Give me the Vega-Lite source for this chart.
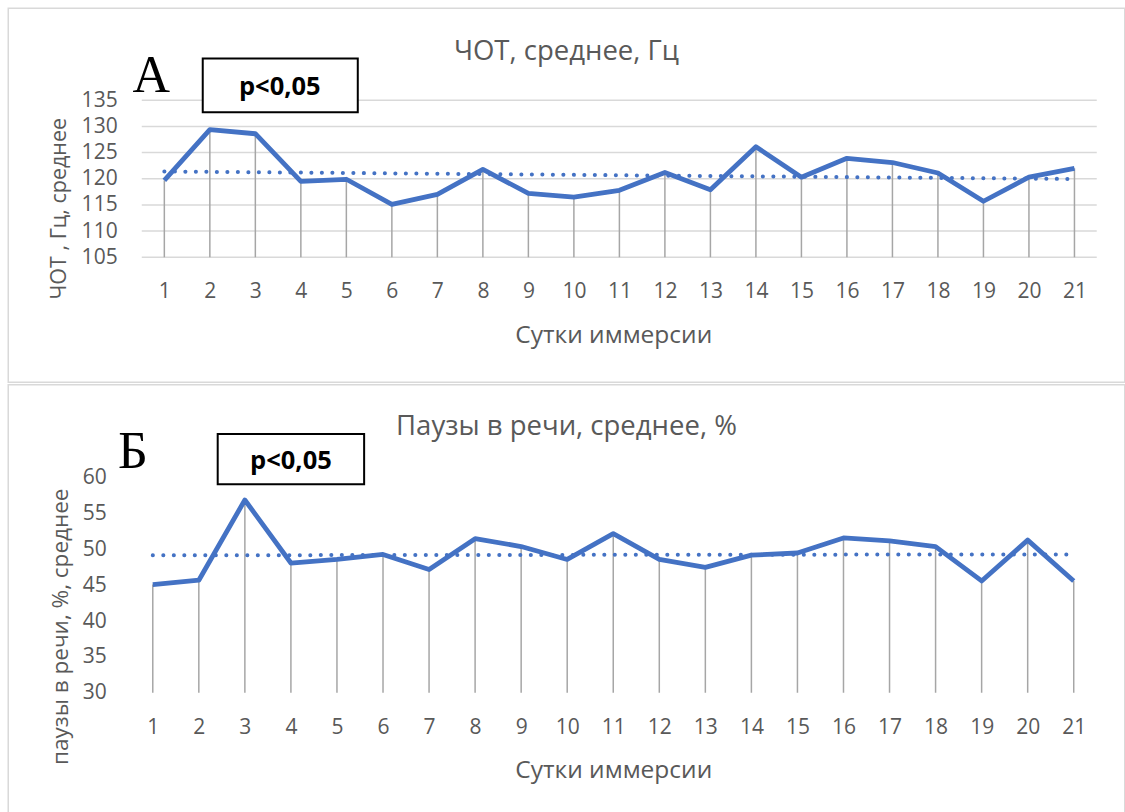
{
  "$schema": "https://vega.github.io/schema/vega-lite/v6.json",
  "background": "white",
  "padding": {"left": 6.75, "top": 7.25, "right": 0, "bottom": 0},
  "datasets": {
    "hr": [
      {"day": 1, "value": 119.7}, {"day": 2, "value": 129.4}, {"day": 3, "value": 128.6},
      {"day": 4, "value": 119.5}, {"day": 5, "value": 119.9}, {"day": 6, "value": 115.1},
      {"day": 7, "value": 117.0}, {"day": 8, "value": 121.8}, {"day": 9, "value": 117.2},
      {"day": 10, "value": 116.5}, {"day": 11, "value": 117.8}, {"day": 12, "value": 121.2},
      {"day": 13, "value": 117.9}, {"day": 14, "value": 126.1}, {"day": 15, "value": 120.3},
      {"day": 16, "value": 123.9}, {"day": 17, "value": 123.1}, {"day": 18, "value": 121.1},
      {"day": 19, "value": 115.7}, {"day": 20, "value": 120.3}, {"day": 21, "value": 122.0}
    ],
    "pause": [
      {"day": 1, "value": 45.1}, {"day": 2, "value": 45.7}, {"day": 3, "value": 56.9},
      {"day": 4, "value": 48.1}, {"day": 5, "value": 48.6}, {"day": 6, "value": 49.3},
      {"day": 7, "value": 47.2}, {"day": 8, "value": 51.5}, {"day": 9, "value": 50.4},
      {"day": 10, "value": 48.6}, {"day": 11, "value": 52.2}, {"day": 12, "value": 48.6},
      {"day": 13, "value": 47.5}, {"day": 14, "value": 49.2}, {"day": 15, "value": 49.5},
      {"day": 16, "value": 51.6}, {"day": 17, "value": 51.2}, {"day": 18, "value": 50.4},
      {"day": 19, "value": 45.6}, {"day": 20, "value": 51.3}, {"day": 21, "value": 45.6}
    ],
    "hrTicks": [
      {"tick": 105}, {"tick": 110}, {"tick": 115}, {"tick": 120}, {"tick": 125}, {"tick": 130}, {"tick": 135}
    ],
    "one": [{}]
  },
  "config": {
    "view": {"stroke": null},
    "font": "Open Sans",
    "axis": {
      "labelFont": "Open Sans", "labelFontSize": 21, "labelColor": "#595959", "labelOverlap": false,
      "titleFont": "Open Sans", "titleColor": "#595959", "titleFontWeight": "normal",
      "domain": false, "ticks": false, "tickSize": 0, "gridColor": "#d9d9d9", "gridWidth": 1.5
    }
  },
  "spacing": 0.5,
  "vconcat": [
    {
      "width": 967, "height": 157,
      "title": {"text": "ЧОТ, среднее, Гц", "anchor": "middle", "frame": "bounds", "offset": -57.75, "font": "Open Sans", "fontSize": 27.5, "fontWeight": "normal", "color": "#595959"},
      "layer": [
        {
          "data": {"name": "one"},
          "mark": {"type": "rect", "filled": false, "stroke": "#d9d9d9", "strokeWidth": 1.5},
          "encoding": {
            "x": {"datum": -2.43, "type": "quantitative"}, "x2": {"datum": 22.105},
            "y": {"datum": 152.58, "type": "quantitative"}, "y2": {"datum": 81.12}
          }
        },
        {
          "data": {"name": "hrTicks"},
          "mark": {"type": "rule", "color": "#d9d9d9", "strokeWidth": 1.5},
          "encoding": {
            "y": {"field": "tick", "type": "quantitative"},
            "x": {"datum": 0.504, "type": "quantitative"},
            "x2": {"datum": 21.49}
          }
        },
        {
          "data": {"name": "hr"},
          "mark": {"type": "rule", "color": "#a6a6a6", "strokeWidth": 1.5},
          "encoding": {
            "x": {"field": "day", "type": "quantitative",
                  "scale": {"domain": [0.24, 21.49], "nice": false, "zero": false},
                  "axis": {"values": [1,2,3,4,5,6,7,8,9,10,11,12,13,14,15,16,17,18,19,20,21], "tickCount": 30, "format": "d", "grid": false, "labelOverlap": false, "labelPadding": 23.5, "title": "Сутки иммерсии", "titleFontSize": 24.5, "titlePadding": 22, "labelFlush": false}},
            "y": {"field": "value", "type": "quantitative",
                  "scale": {"domain": [105, 135], "nice": false, "zero": false},
                  "axis": {"values": [105,110,115,120,125,130,135], "tickCount": 10, "grid": false, "labelOverlap": false, "labelPadding": 12.6, "title": "ЧОТ , Гц, среднее", "titleFontSize": 21.5, "titlePadding": 10.5, "titleY": 108}},
            "y2": {"datum": 105}
          }
        },
        {
          "data": {"name": "hr"},
          "mark": {"type": "line", "color": "#4472C4", "strokeWidth": 4.8, "strokeJoin": "round"},
          "encoding": {
            "x": {"field": "day", "type": "quantitative"},
            "y": {"field": "value", "type": "quantitative"}
          }
        },
        {
          "data": {"name": "hr"},
          "transform": [{"regression": "value", "on": "day"}],
          "mark": {"type": "line", "color": "#4472C4", "strokeWidth": 4, "strokeDash": [0.1, 10.4], "strokeCap": "round"},
          "encoding": {
            "x": {"field": "day", "type": "quantitative"},
            "y": {"field": "value", "type": "quantitative"}
          }
        },
        {
          "data": {"name": "one"},
          "mark": {"type": "rect", "fill": "white", "stroke": "black", "strokeWidth": 2},
          "encoding": {
            "x": {"datum": 1.844, "type": "quantitative"}, "x2": {"datum": 5.251},
            "y": {"datum": 143.0, "type": "quantitative"}, "y2": {"datum": 132.7}
          }
        },
        {
          "data": {"name": "one"},
          "mark": {"type": "text", "text": "p<0,05", "font": "Open Sans", "fontWeight": "bold", "fontSize": 25.5, "color": "black", "baseline": "middle", "align": "center"},
          "encoding": {"x": {"datum": 3.537, "type": "quantitative"}, "y": {"datum": 137.6, "type": "quantitative"}}
        },
        {
          "data": {"name": "one"},
          "mark": {"type": "text", "text": "А", "font": "Liberation Serif", "fontSize": 52, "color": "black", "baseline": "alphabetic", "align": "center"},
          "encoding": {"x": {"datum": 0.713, "type": "quantitative"}, "y": {"datum": 136.5, "type": "quantitative"}}
        }
      ]
    },
    {
      "width": 967, "height": 215,
      "title": {"text": "Паузы в речи, среднее, %", "anchor": "middle", "frame": "bounds", "offset": -56.75, "font": "Open Sans", "fontSize": 27.5, "fontWeight": "normal", "color": "#595959"},
      "layer": [
        {
          "data": {"name": "one"},
          "mark": {"type": "rect", "filled": false, "stroke": "#d9d9d9", "strokeWidth": 1.5},
          "encoding": {
            "x": {"datum": -2.139, "type": "quantitative"}, "x2": {"datum": 22.108},
            "y": {"datum": 72.98, "type": "quantitative"}, "y2": {"datum": 12.84}
          }
        },
        {
          "data": {"name": "pause"},
          "mark": {"type": "rule", "color": "#a6a6a6", "strokeWidth": 1.5},
          "encoding": {
            "x": {"field": "day", "type": "quantitative",
                  "scale": {"domain": [0.5, 21.5], "nice": false, "zero": false},
                  "axis": {"values": [1,2,3,4,5,6,7,8,9,10,11,12,13,14,15,16,17,18,19,20,21], "tickCount": 30, "format": "d", "grid": false, "labelOverlap": false, "labelPadding": 23.5, "title": "Сутки иммерсии", "titleFontSize": 24.5, "titlePadding": 21, "labelFlush": false}},
            "y": {"field": "value", "type": "quantitative",
                  "scale": {"domain": [30, 60], "nice": false, "zero": false},
                  "axis": {"values": [30,35,40,45,50,55,60], "tickCount": 10, "labelOverlap": false, "labelPadding": 23.6, "title": "паузы в речи, %, среднее", "titleFontSize": 22.5, "titlePadding": 10, "titleY": 148.5}},
            "y2": {"datum": 30}
          }
        },
        {
          "data": {"name": "pause"},
          "mark": {"type": "line", "color": "#4472C4", "strokeWidth": 4.8, "strokeJoin": "round"},
          "encoding": {
            "x": {"field": "day", "type": "quantitative"},
            "y": {"field": "value", "type": "quantitative"}
          }
        },
        {
          "data": {"name": "pause"},
          "transform": [{"regression": "value", "on": "day"}],
          "mark": {"type": "line", "color": "#4472C4", "strokeWidth": 4, "strokeDash": [0.1, 10.4], "strokeCap": "round"},
          "encoding": {
            "x": {"field": "day", "type": "quantitative"},
            "y": {"field": "value", "type": "quantitative"}
          }
        },
        {
          "data": {"name": "one"},
          "mark": {"type": "rect", "fill": "white", "stroke": "black", "strokeWidth": 2},
          "encoding": {
            "x": {"datum": 2.41, "type": "quantitative"}, "x2": {"datum": 5.59},
            "y": {"datum": 66.1, "type": "quantitative"}, "y2": {"datum": 59.1}
          }
        },
        {
          "data": {"name": "one"},
          "mark": {"type": "text", "text": "p<0,05", "font": "Open Sans", "fontWeight": "bold", "fontSize": 25.5, "color": "black", "baseline": "middle", "align": "center"},
          "encoding": {"x": {"datum": 4.0, "type": "quantitative"}, "y": {"datum": 62.3, "type": "quantitative"}}
        },
        {
          "data": {"name": "one"},
          "mark": {"type": "text", "text": "Б", "font": "Liberation Serif", "fontSize": 52, "color": "black", "baseline": "alphabetic", "align": "center"},
          "encoding": {"x": {"datum": 0.57, "type": "quantitative"}, "y": {"datum": 61.35, "type": "quantitative"}}
        }
      ]
    }
  ]
}
